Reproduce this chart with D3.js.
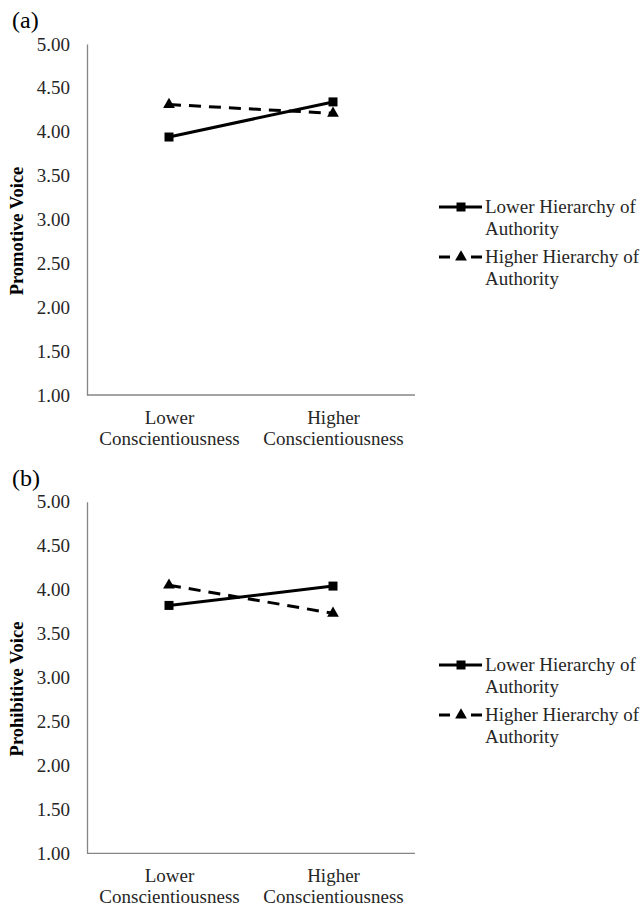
<!DOCTYPE html>
<html>
<head>
<meta charset="utf-8">
<script src="https://cdn.jsdelivr.net/npm/d3@7"></script>
<style>
  body { margin: 0; background: #fff; }
  svg text { font-family: "Liberation Serif", "DejaVu Serif", "Times New Roman", serif !important; }
</style>
</head>
<body>
<div id="chart"></div>
<script>
// categories on the x axis (two text lines each)
var categories = [["Lower", "Conscientiousness"], ["Higher", "Conscientiousness"]];
var yTicks = [1.00, 1.50, 2.00, 2.50, 3.00, 3.50, 4.00, 4.50, 5.00];
var seriesNames = [["Lower Hierarchy of", "Authority"], ["Higher Hierarchy of", "Authority"]];
// panel (a) values
var promotiveLower = [3.94, 4.34];
var promotiveHigher = [4.31, 4.21];
// panel (b) values
var prohibitiveLower = [3.82, 4.04];
var prohibitiveHigher = [4.05, 3.73];

var serif = "'Liberation Serif', 'DejaVu Serif', serif";

function init() {
  var w = 643;
  var h = 907;
  var svg = d3.select("#chart")
    .append("svg")
    .attr("width", w)
    .attr("height", h)
    .attr("font-family", serif);

  function drawPanel(opts) {
    var g = svg.append("g");
    var x = d3.scalePoint()
      .domain(d3.range(categories.length))
      .range([87, 415])
      .padding(0.5);
    var y = d3.scaleLinear()
      .domain([1, 5])
      .range([opts.bottom, opts.top]);

    // panel letter
    g.append("text")
      .attr("x", 12)
      .attr("y", opts.top - 16)
      .attr("font-family", serif)
      .style("font-size", "24px")
      .style("fill", "#000")
      .text(opts.letter);

    // y axis
    var yAxis = g.append("g")
      .attr("transform", "translate(87,0)")
      .call(d3.axisLeft(y).tickValues(yTicks).tickFormat(d3.format(".2f")).tickSize(0).tickPadding(17))
      .attr("font-family", serif);
    yAxis.select(".domain").attr("stroke", "#868686").attr("stroke-width", 1.3);
    yAxis.selectAll("text")
      .style("font-size", "19px")
      .style("fill", "#262626");

    // x axis
    var xAxis = g.append("g")
      .attr("transform", "translate(0," + opts.bottom + ")")
      .call(d3.axisBottom(x).tickSize(0).tickFormat(""))
      .attr("font-family", serif);
    xAxis.select(".domain").attr("stroke", "#868686").attr("stroke-width", 1.3)
      .attr("d", "M87,0H415");
    xAxis.selectAll(".tick").each(function (d) {
      var t = d3.select(this).select("text")
        .attr("y", 0)
        .attr("dy", null)
        .style("font-size", "19px")
        .style("fill", "#262626");
      categories[d].forEach(function (line, i) {
        t.append("tspan")
          .attr("x", 0)
          .attr("y", 29 + i * 21)
          .text(line);
      });
    });

    // y axis title
    g.append("text")
      .attr("transform", "translate(23," + opts.titleY + ") rotate(-90)")
      .attr("text-anchor", "middle")
      .attr("font-family", serif)
      .style("font-size", "18.5px")
      .style("font-weight", "bold")
      .style("fill", "#000")
      .text(opts.title);

    var line = d3.line()
      .x(function (d, i) { return x(i); })
      .y(function (d) { return y(d); });

    var series = [
      { values: opts.lower, dash: null, symbol: d3.symbolSquare, size: 81 },
      { values: opts.higher, dash: "12,8", symbol: d3.symbolTriangle, size: 60 }
    ];

    series.forEach(function (s, k) {
      g.append("path")
        .datum(s.values)
        .attr("d", line)
        .attr("fill", "none")
        .attr("stroke", "#000")
        .attr("stroke-width", 3)
        .attr("stroke-dasharray", s.dash);
      g.selectAll(".pt" + k)
        .data(s.values)
        .enter()
        .append("path")
        .attr("class", "pt" + k)
        .attr("transform", function (d, i) { return "translate(" + x(i) + "," + y(d) + ")"; })
        .attr("d", d3.symbol().type(s.symbol).size(s.size))
        .attr("fill", "#000");

      // legend entry
      var ly = opts.legendY + k * 50;
      var lg = g.append("g");
      lg.append("line")
        .attr("x1", 439).attr("x2", 482)
        .attr("y1", ly).attr("y2", ly)
        .attr("stroke", "#000")
        .attr("stroke-width", 3)
        .attr("stroke-dasharray", s.dash ? "11,21,11" : null);
      lg.append("path")
        .attr("transform", "translate(461," + ly + ")")
        .attr("d", d3.symbol().type(s.symbol).size(s.size))
        .attr("fill", "#000");
      var lt = lg.append("text")
        .attr("font-family", serif)
        .style("font-size", "19px")
        .style("fill", "#262626");
      seriesNames[k].forEach(function (txt, i) {
        lt.append("tspan")
          .attr("x", 485)
          .attr("y", ly + 6 + i * 21.5)
          .text(txt);
      });
    });
  }

  drawPanel({
    letter: "(a)", top: 44, bottom: 395, titleY: 231, legendY: 207,
    title: "Promotive Voice", lower: promotiveLower, higher: promotiveHigher
  });
  drawPanel({
    letter: "(b)", top: 501.7, bottom: 853.3, titleY: 689, legendY: 665,
    title: "Prohibitive Voice", lower: prohibitiveLower, higher: prohibitiveHigher
  });
}
window.onload = init;
</script>
</body>
</html>
